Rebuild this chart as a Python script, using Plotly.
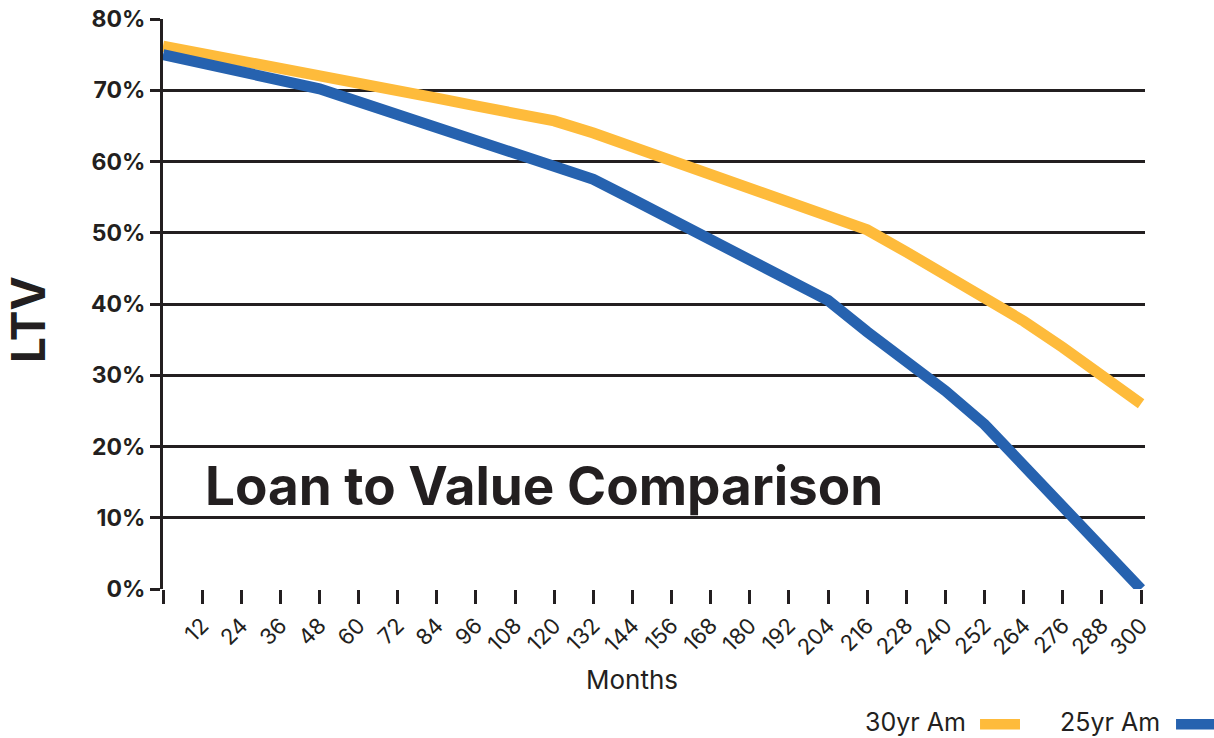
import plotly.graph_objects as go

# ---- data ----
months = [0, 12, 24, 36, 48, 60, 72, 84, 96, 108, 120, 132, 144, 156, 168,
          180, 192, 204, 216, 228, 240, 252, 264, 276, 288, 300]
ltv_30yr = [76.2, 75.2, 74.1, 73.1, 72.0, 71.0, 69.9, 68.9, 67.8, 66.8, 65.7,
            64.0, 62.1, 60.3, 58.4, 56.5, 54.6, 52.7, 50.4, 47.3, 44.2, 41.0,
            37.6, 33.9, 30.0, 26.0]
ltv_25yr = [75.0, 73.8, 72.6, 71.4, 70.2, 68.4, 66.6, 64.9, 63.1, 61.4, 59.6,
            57.5, 54.7, 51.8, 49.0, 46.2, 43.4, 40.5, 36.1, 32.0, 27.8, 23.1,
            17.4, 11.5, 6.0, 0.0]
series_names = ["30yr Am", "25yr Am"]
x_tick_text = [""] + [str(m) for m in months[1:]]
y_ticks = [0, 10, 20, 30, 40, 50, 60, 70, 80]
y_tick_text = [f"{v}%" for v in y_ticks]

ORANGE = "#FEBB3B"
BLUE = "#2662AF"
INK = "#231F20"
FONT = "Inter"

fig = go.Figure()
fig.add_trace(go.Scatter(x=months, y=ltv_30yr, mode="lines", name=series_names[0],
                         line=dict(color=ORANGE, width=11), showlegend=False))
fig.add_trace(go.Scatter(x=months, y=ltv_25yr, mode="lines", name=series_names[1],
                         line=dict(color=BLUE, width=11), showlegend=False))

fig.update_layout(
    width=1214, height=738, autosize=False,
    margin=dict(l=163, r=69, t=19, b=149),
    paper_bgcolor="white", plot_bgcolor="white",
    font=dict(family=FONT, color=INK),
)
fig.update_xaxes(
    range=[0, 301.2], tickmode="array", tickvals=months, ticktext=x_tick_text,
    tickangle=-45, ticks="outside", ticklen=14, tickwidth=2.5, tickcolor=INK,
    tickfont=dict(family=FONT, size=22, color=INK),
    showgrid=False, zeroline=False, showline=False, automargin=False,
)
fig.update_yaxes(
    range=[0, 80], tickmode="array", tickvals=y_ticks, ticktext=y_tick_text,
    ticks="outside", ticklen=10, tickwidth=2.5, tickcolor=INK,
    tickfont=dict(family=FONT, size=23, color=INK, weight="bold"),
    ticklabelstandoff=0, ticklabeloverflow="allow", automargin=False,
    showgrid=True, gridcolor=INK, gridwidth=2.5,
    zeroline=False, showline=True, linecolor=INK, linewidth=3,
)

# axis titles / chart title
fig.add_annotation(text="LTV", xref="paper", yref="paper", x=-0.1375, y=0.4737,
                   textangle=-90, showarrow=False, xanchor="center", yanchor="middle",
                   font=dict(family=FONT, size=46, color=INK, weight="bold"))
fig.add_annotation(text="Months", xref="paper", yref="paper", x=0.4781, y=-0.1596,
                   showarrow=False, xanchor="center", yanchor="middle",
                   font=dict(family=FONT, size=26, color=INK))
fig.add_annotation(text="Loan to Value Comparison", xref="paper", yref="paper",
                   x=0.0407, y=0.181, showarrow=False, xanchor="left", yanchor="middle",
                   font=dict(family=FONT, size=53, color=INK, weight="bold"))

# custom legend: label then swatch
legend_items = [(series_names[0], ORANGE, 0.8198, 0.832),
                (series_names[1], BLUE, 1.0173, 1.0316)]
for name, color, xt, xs in legend_items:
    fig.add_annotation(text=name, xref="paper", yref="paper", x=xt, y=-0.2333,
                       showarrow=False, xanchor="right", yanchor="middle",
                       font=dict(family=FONT, size=25, color=INK))
    fig.add_shape(type="rect", xref="paper", yref="paper", x0=xs, x1=xs + 0.0407,
                  y0=-0.2465, y1=-0.228, fillcolor=color, line=dict(width=0))

fig.write_html(
    "out.html",
    config={"displayModeBar": False},
    post_script="document.body.style.margin='0';document.body.style.overflow='hidden';",
)
